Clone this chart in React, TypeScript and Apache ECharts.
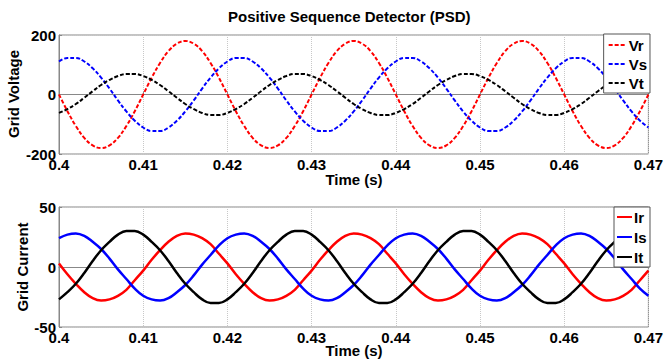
import React, { useEffect, useRef } from "react";
import * as echarts from "echarts";

const t0 = 0.4;
const dt = 0.001;
const nPts = 71;
const times: number[] = Array.from({ length: nPts }, (_, i) => +(t0 + i * dt).toFixed(4));

const vr = [
  0, -56, -106, -146, -171, -180, -171, -146, -106, -56, 0, 56, 106, 146, 171, 180, 171, 146, 106, 56,
  0, -56, -106, -146, -171, -180, -171, -146, -106, -56, 0, 56, 106, 146, 171, 180, 171, 146, 106, 56,
  0, -56, -106, -146, -171, -180, -171, -146, -106, -56, 0, 56, 106, 146, 171, 180, 171, 146, 106, 56,
  0, -56, -106, -146, -171, -180, -171, -146, -106, -56, 0,
];
const vs = [
  111, 123, 123, 111, 88, 57, 20, -20, -57, -88, -111, -123, -123, -111, -88, -57, -20, 20, 57, 88,
  111, 123, 123, 111, 88, 57, 20, -20, -57, -88, -111, -123, -123, -111, -88, -57, -20, 20, 57, 88,
  111, 123, 123, 111, 88, 57, 20, -20, -57, -88, -111, -123, -123, -111, -88, -57, -20, 20, 57, 88,
  111, 123, 123, 111, 88, 57, 20, -20, -57, -88, -111,
];
const vt = [
  -62, -49, -32, -11, 11, 32, 49, 62, 69, 69, 62, 49, 32, 11, -11, -32, -49, -62, -69, -69,
  -62, -49, -32, -11, 11, 32, 49, 62, 69, 69, 62, 49, 32, 11, -11, -32, -49, -62, -69, -69,
  -62, -49, -32, -11, 11, 32, 49, 62, 69, 69, 62, 49, 32, 11, -11, -32, -49, -62, -69, -69,
  -62, -49, -32, -11, 11, 32, 49, 62, 69, 69, 62,
];
const ir = [
  3, -6, -14, -21, -26, -28, -27, -24, -19, -11, -3, 6, 14, 21, 26, 28, 27, 24, 19, 11,
  3, -6, -14, -21, -26, -28, -27, -24, -19, -11, -3, 6, 14, 21, 26, 28, 27, 24, 19, 11,
  3, -6, -14, -21, -26, -28, -27, -24, -19, -11, -3, 6, 14, 21, 26, 28, 27, 24, 19, 11,
  3, -6, -14, -21, -26, -28, -27, -24, -19, -11, -3,
];
const is_ = [
  24, 27, 28, 26, 21, 15, 7, -2, -10, -18, -24, -27, -28, -26, -21, -15, -7, 2, 10, 18,
  24, 27, 28, 26, 21, 15, 7, -2, -10, -18, -24, -27, -28, -26, -21, -15, -7, 2, 10, 18,
  24, 27, 28, 26, 21, 15, 7, -2, -10, -18, -24, -27, -28, -26, -21, -15, -7, 2, 10, 18,
  24, 27, 28, 26, 21, 15, 7, -2, -10, -18, -24,
];
const it = [
  -27, -21, -14, -5, 5, 14, 21, 27, 30, 30, 27, 21, 14, 5, -5, -14, -21, -27, -30, -30,
  -27, -21, -14, -5, 5, 14, 21, 27, 30, 30, 27, 21, 14, 5, -5, -14, -21, -27, -30, -30,
  -27, -21, -14, -5, 5, 14, 21, 27, 30, 30, 27, 21, 14, 5, -5, -14, -21, -27, -30, -30,
  -27, -21, -14, -5, 5, 14, 21, 27, 30, 30, 27,
];

const title = "Positive Sequence Detector (PSD)";
const xName = "Time (s)";
const yNameTop = "Grid Voltage";
const yNameBottom = "Grid Current";
const voltageNames = ["Vr", "Vs", "Vt"];
const currentNames = ["Ir", "Is", "It"];
const phaseColors = ["#ff0000", "#0000ff", "#000000"];

const FONT = "'Liberation Sans', Arial, Helvetica, sans-serif";
const AXIS_COLOR = "#888";
const TEXT_STYLE = { fontFamily: FONT, fontWeight: "bold", fontSize: 15, fill: "#000" };

function xAxisCfg(gridIndex: number) {
  return {
    type: "value",
    gridIndex,
    min: 0.4,
    max: 0.47,
    interval: 0.01,
    axisLine: { show: true, lineStyle: { color: AXIS_COLOR } },
    axisTick: { show: true, inside: true, length: 3, lineStyle: { color: AXIS_COLOR } },
    axisLabel: {
      margin: 3,
      fontFamily: FONT,
      fontWeight: "bold",
      fontSize: 15,
      color: "#000",
      formatter: (v: number) => String(parseFloat(v.toFixed(2))),
    },
    splitLine: { show: true, lineStyle: { type: "dotted", color: "#c8c8c8" } },
  };
}

function yAxisCfg(gridIndex: number, min: number, max: number, interval: number) {
  return {
    type: "value",
    gridIndex,
    min,
    max,
    interval,
    axisLine: { show: true, lineStyle: { color: AXIS_COLOR } },
    axisTick: { show: true, inside: true, length: 3, lineStyle: { color: AXIS_COLOR } },
    axisLabel: { margin: 3, fontFamily: FONT, fontWeight: "bold", fontSize: 15, color: "#000" },
    splitLine: { show: true, lineStyle: { type: "dotted", color: "#c8c8c8" } },
  };
}

function lineSeries(name: string, values: number[], color: string, idx: number, dashed: boolean) {
  return {
    name,
    type: "line",
    xAxisIndex: idx,
    yAxisIndex: idx,
    data: times.map((t, i) => [t, values[i]]),
    smooth: 0.4,
    symbol: "none",
    showSymbol: false,
    lineStyle: { color, width: dashed ? 2 : 2.5, type: dashed ? [4, 2] : "solid", opacity: 1 },
    itemStyle: { color, opacity: 0 },
  };
}

// Lower legend box (drawn as graphic elements, above the series)
function currentLegend(): any[] {
  const left = 614;
  const top = 207;
  const rowH = 20;
  const items: any[] = [
    {
      type: "rect",
      z: 100,
      shape: { x: left, y: top, width: 36, height: 60 },
      style: { fill: "#fff", stroke: "#555", lineWidth: 1 },
    },
  ];
  currentNames.forEach((n, i) => {
    const cy = top + 10 + i * rowH;
    items.push({
      type: "line",
      z: 101,
      shape: { x1: left + 3, y1: cy, x2: left + 18, y2: cy },
      style: { stroke: phaseColors[i], lineWidth: 2 },
    });
    items.push({
      type: "text",
      z: 101,
      x: left + 20,
      y: cy,
      style: { ...TEXT_STYLE, text: n, align: "left", verticalAlign: "middle" },
    });
  });
  return items;
}

export default function App() {
  const ref = useRef<HTMLDivElement>(null);
  useEffect(() => {
    if (!ref.current) return;
    const chart = echarts.init(ref.current, undefined, { renderer: "svg" });
    chart.setOption({
      animation: false,
      backgroundColor: "#fff",
      title: {
        text: title,
        left: 228,
        top: 9,
        padding: 0,
        textStyle: { fontFamily: FONT, fontWeight: "bold", fontSize: 15, color: "#000" },
      },
      grid: [
        { left: 59, right: 16, top: 35, height: 119, show: true, borderColor: AXIS_COLOR, borderWidth: 1 },
        { left: 59, right: 16, top: 207, height: 120, show: true, borderColor: AXIS_COLOR, borderWidth: 1 },
      ],
      xAxis: [xAxisCfg(0), xAxisCfg(1)],
      yAxis: [yAxisCfg(0, -200, 200, 200), yAxisCfg(1, -50, 50, 50)],
      legend: {
        data: voltageNames,
        orient: "vertical",
        right: 16,
        top: 34,
        itemGap: 1,
        itemWidth: 18,
        itemHeight: 2,
        padding: [2, 3, 1, 4],
        backgroundColor: "#fff",
        borderColor: "#555",
        borderWidth: 1,
        borderRadius: 0,
        itemStyle: { opacity: 0 },
        lineStyle: { width: 2, opacity: 1 },
        textStyle: {
          fontFamily: FONT,
          fontWeight: "bold",
          fontSize: 15,
          color: "#000",
          lineHeight: 18,
          padding: [0, 0, 0, -3],
        },
      },
      graphic: [
        { type: "text", x: 354, y: 179, style: { ...TEXT_STYLE, text: xName, align: "center", verticalAlign: "middle" } },
        { type: "text", x: 354, y: 350, style: { ...TEXT_STYLE, text: xName, align: "center", verticalAlign: "middle" } },
        {
          type: "text",
          x: 13,
          y: 94,
          rotation: Math.PI / 2,
          style: { ...TEXT_STYLE, text: yNameTop, align: "center", verticalAlign: "middle" },
        },
        {
          type: "text",
          x: 22,
          y: 267,
          rotation: Math.PI / 2,
          style: { ...TEXT_STYLE, text: yNameBottom, align: "center", verticalAlign: "middle" },
        },
        ...currentLegend(),
      ],
      series: [
        lineSeries(voltageNames[0], vr, phaseColors[0], 0, true),
        lineSeries(voltageNames[1], vs, phaseColors[1], 0, true),
        lineSeries(voltageNames[2], vt, phaseColors[2], 0, true),
        lineSeries(currentNames[0], ir, phaseColors[0], 1, false),
        lineSeries(currentNames[1], is_, phaseColors[1], 1, false),
        lineSeries(currentNames[2], it, phaseColors[2], 1, false),
      ],
    });
    return () => chart.dispose();
  }, []);
  return (
    <div
      ref={ref}
      style={{ position: "absolute", left: 0, top: 0, width: 666, height: 359 }}
    />
  );
}
